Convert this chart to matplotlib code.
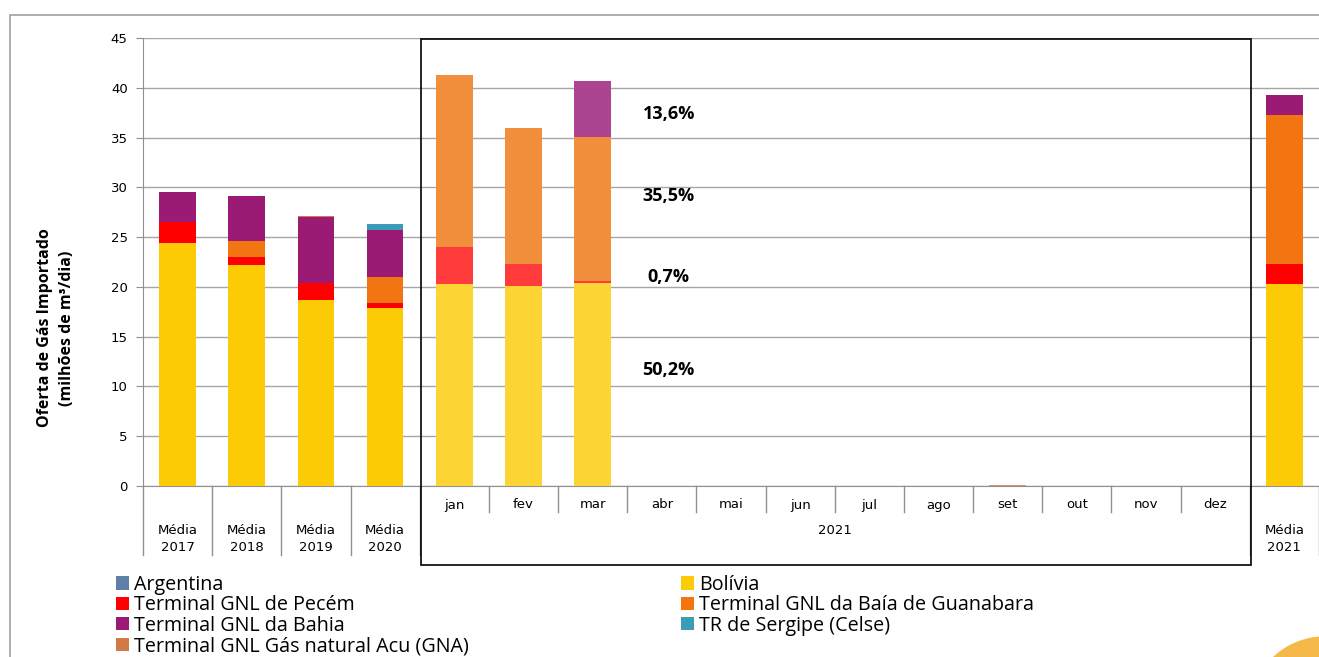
import matplotlib.pyplot as plt
from matplotlib.patches import Patch, Rectangle, Ellipse
import numpy as np

categorias = ["Média\n2017", "Média\n2018", "Média\n2019", "Média\n2020",
              "jan", "fev", "mar", "abr", "mai", "jun", "jul", "ago", "set", "out", "nov", "dez",
              "Média\n2021"]
ano_meses = "2021"

argentina = [0, 0, 0, 0, 0, 0, 0, 0, 0, 0, 0, 0, 0, 0, 0, 0, 0]
bolivia = [24.4, 22.2, 18.7, 17.9, 20.3, 20.1, 20.35, 0, 0, 0, 0, 0, 0, 0, 0, 0, 20.3]
pecem = [2.1, 0.8, 1.7, 0.5, 3.7, 2.2, 0.25, 0, 0, 0, 0, 0, 0, 0, 0, 0, 2.0]
guanabara = [0, 1.6, 0, 2.6, 17.3, 13.7, 14.5, 0, 0, 0, 0, 0, 0, 0, 0, 0, 15.0]
bahia = [3.0, 4.5, 6.6, 4.7, 0, 0, 5.6, 0, 0, 0, 0, 0, 0, 0, 0, 0, 2.0]
sergipe = [0, 0, 0, 0.6, 0, 0, 0, 0, 0, 0, 0, 0, 0, 0, 0, 0, 0]
gna = [0, 0, 0.15, 0, 0, 0, 0, 0, 0, 0, 0, 0, 0.15, 0, 0, 0, 0]

percentuais = ["13,6%", "35,5%", "0,7%", "50,2%"]
percentuais_y = [37.4, 29.1, 21.0, 11.7]

# cores: (médias, meses)
cores = {
    "Argentina": ("#5f7fa6", "#5f7fa6"),
    "Bolívia": ("#fdcb05", "#fcd535"),
    "Terminal GNL de Pecém": ("#ff0000", "#ff3b3b"),
    "Terminal GNL da Baía de Guanabara": ("#f27511", "#f28f3c"),
    "Terminal GNL da Bahia": ("#9b1a74", "#ac4490"),
    "TR de Sergipe (Celse)": ("#3a9cb8", "#3a9cb8"),
    "Terminal GNL Gás natural Acu (GNA)": ("#d07a45", "#d8906a"),
}
series = [
    ("Argentina", argentina),
    ("Bolívia", bolivia),
    ("Terminal GNL de Pecém", pecem),
    ("Terminal GNL da Baía de Guanabara", guanabara),
    ("Terminal GNL da Bahia", bahia),
    ("TR de Sergipe (Celse)", sergipe),
    ("Terminal GNL Gás natural Acu (GNA)", gna),
]

W, H = 1319, 657
fig = plt.figure(figsize=(W / 100, H / 100), dpi=100)
ax = fig.add_axes([143 / W, 1 - 486 / H, 1176 / W, 448 / H])

x = np.arange(len(categorias))
eh_mes = np.array([4 <= i <= 15 for i in x])
base = np.zeros(len(categorias))
for nome, vals in series:
    vals = np.array(vals, dtype=float)
    c_media, c_mes = cores[nome]
    cols = [c_mes if m else c_media for m in eh_mes]
    ax.bar(x, vals, bottom=base, width=0.53, color=cols, zorder=3)
    base += vals

ax.set_xlim(-0.5, len(categorias) - 0.5)
ax.set_ylim(0, 45)
ax.set_yticks(range(0, 46, 5))
ax.tick_params(axis="y", labelsize=9.5, length=5, color="#909090", pad=6)
ax.set_xticks([])
ax.grid(axis="y", color="#a6a6a6", lw=1, zorder=0)
for s in ["top", "right"]:
    ax.spines[s].set_visible(False)
ax.spines["left"].set_color("#909090")
ax.spines["bottom"].set_color("#909090")

tr = ax.get_xaxis_transform()
px = 1 / 448
# separadores de categoria
for b in [-0.5, 0.5, 1.5, 2.5, 3.5, 15.5, 16.5]:
    ax.plot([b, b], [0, -69 * px], transform=tr, color="#909090", lw=1, clip_on=False)
for b in np.arange(4.5, 15.5, 1):
    ax.plot([b, b], [0, -26 * px], transform=tr, color="#909090", lw=1, clip_on=False)

for i, lab in enumerate(categorias):
    if eh_mes[i]:
        ax.text(i, -19 * px, lab, transform=tr, ha="center", va="center", fontsize=9.5)
    else:
        ax.text(i, -53 * px, lab, transform=tr, ha="center", va="center", fontsize=9.5,
                linespacing=1.35)
ax.text(9.5, -45 * px, ano_meses, transform=tr, ha="center", va="center", fontsize=9.5)

# caixa dos meses de 2021
ax.add_patch(Rectangle((3.52, -79 * px), 12, 1 + 78 * px, transform=tr, fill=False,
                       edgecolor="black", lw=1.2, clip_on=False, zorder=5))

for txt, yv in zip(percentuais, percentuais_y):
    ax.text(7.1, yv, txt, ha="center", va="center", fontsize=13, fontweight="bold",
            family=["Open Sans", "DejaVu Sans"], zorder=6)

fig.text(56 / W, 1 - 328 / H, "Oferta de Gás Importado\n(milhões de m³/dia)", rotation=90,
         ha="center", va="center", fontsize=11.5, fontweight="bold",
         family=["Open Sans", "DejaVu Sans"], linespacing=1.45)

# moldura externa
fig.add_artist(Rectangle((10 / W, -0.1), 1.2, 1 - 15 / H + 0.1, transform=fig.transFigure,
                         fill=False, edgecolor="#a0a0a0", lw=1.2))
fig.add_artist(Ellipse((1325 / W, 1 - 712 / H), 150 / W, 150 / H, transform=fig.transFigure,
                       color="#f5b94a", clip_on=False))

handles = {nome: Patch(facecolor=cores[nome][0], edgecolor="none") for nome, _ in series}
col1 = ["Argentina", "Terminal GNL de Pecém", "Terminal GNL da Bahia",
        "Terminal GNL Gás natural Acu (GNA)"]
col2 = ["Bolívia", "Terminal GNL da Baía de Guanabara", "TR de Sergipe (Celse)"]
for cols_leg, x0 in [(col1, 116), (col2, 681)]:
    fig.legend([handles[n] for n in cols_leg], cols_leg, loc="upper left",
               bbox_to_anchor=(x0 / W, 1 - 575 / H), frameon=False, ncol=1,
               prop={"family": ["Open Sans", "DejaVu Sans"], "size": 14.2},
               handlelength=0.65, handleheight=0.65, handletextpad=0.25, labelspacing=0.02,
               borderaxespad=0, borderpad=0)

fig.savefig("out.png", dpi=100)
